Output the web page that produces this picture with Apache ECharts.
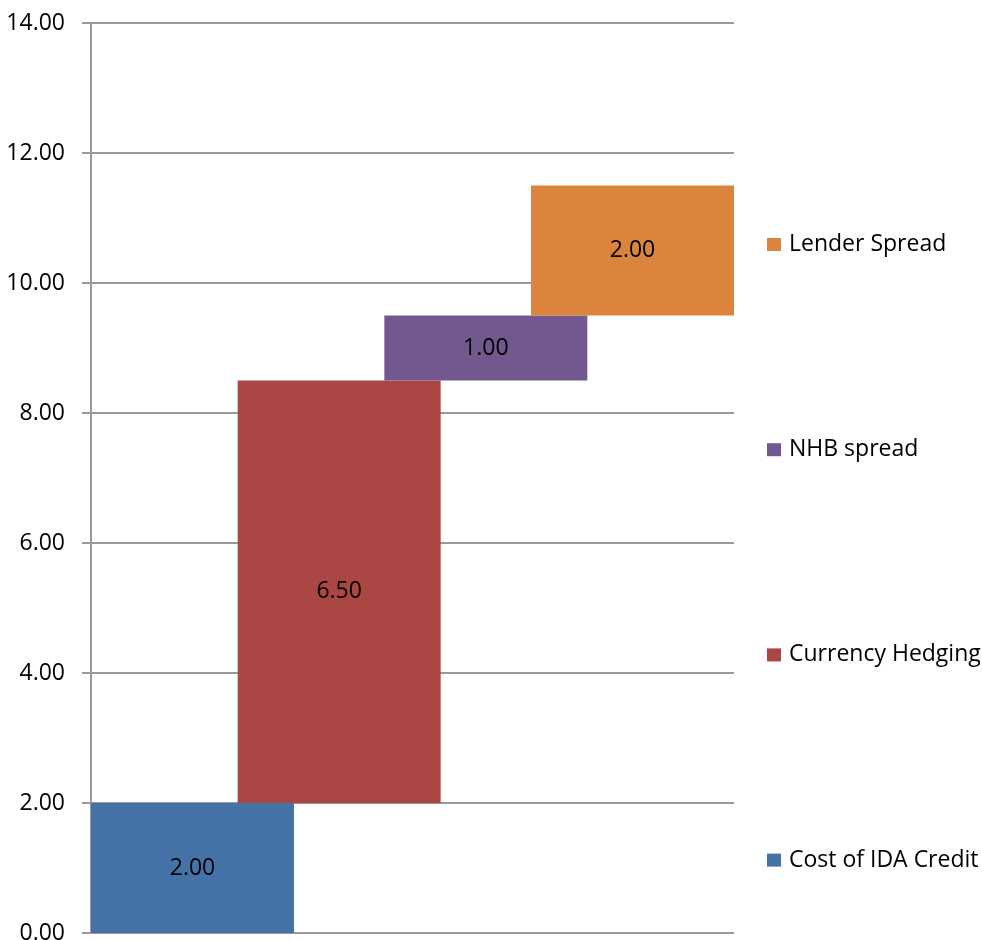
<!DOCTYPE html>
<html>
<head>
<meta charset="utf-8">
<script src="https://cdn.jsdelivr.net/npm/echarts@6/dist/echarts.min.js"></script>
<style>
  html, body { margin: 0; padding: 0; background: #fff; }
  #chart { width: 982px; height: 940px; }
</style>
</head>
<body>
<div id="chart"></div>
<script>
// waterfall data
var categories = ['Cost of IDA Credit', 'Currency Hedging', 'NHB spread', 'Lender Spread'];
var values = [2.00, 6.50, 1.00, 2.00];
var colors = ['#4573a7', '#aa4644', '#71588f', '#db843e'];
var legendOrder = ['Lender Spread', 'NHB spread', 'Currency Hedging', 'Cost of IDA Credit'];

var BAR_W = 1.384; // bar width in x units (bars overlap like the original)
var FONT = '"Open Sans", "Noto Sans", sans-serif';

function renderBar(params, api) {
	var x = api.value(0);
	var lo = api.value(1);
	var hi = api.value(2);
	var p0 = api.coord([x - BAR_W / 2, hi]);
	var p1 = api.coord([x + BAR_W / 2, lo]);
	return {
		type: 'rect',
		shape: { x: p0[0], y: p0[1], width: p1[0] - p0[0], height: p1[1] - p0[1] },
		style: { fill: colors[params.seriesIndex] },
		textContent: {
			style: {
				text: (hi - lo).toFixed(2),
				fill: '#000',
				fontSize: 23,
				fontFamily: FONT
			}
		},
		textConfig: { position: 'inside' }
	};
}

var base = 0;
var series = categories.map(function(name, i) {
	var item = [i, base, base + values[i]];
	base += values[i];
	return {
		name: name,
		type: 'custom',
		renderItem: renderBar,
		itemStyle: { color: colors[i] },
		encode: { x: 0, y: [1, 2] },
		data: [item]
	};
});

var myChart = echarts.init(document.getElementById('chart'));
var option = {
	backgroundColor: '#fff',
	animation: false,
	grid: { left: 91, right: 248, top: 23, bottom: 7, outerBoundsMode: 'none' },
	legend: {
		orient: 'vertical',
		left: 767,
		top: 233,
		padding: 0,
		itemWidth: 14,
		itemHeight: 13,
		itemGap: 182.2,
		icon: 'rect',
		data: legendOrder,
		textStyle: { fontSize: 23, fontFamily: FONT, color: '#000', padding: [0, 0, 0, 3] }
	},
	xAxis: {
		type: 'value',
		min: -BAR_W / 2,
		max: 3 + BAR_W / 2,
		show: false
	},
	yAxis: {
		type: 'value',
		min: 0,
		max: 14,
		interval: 2,
		axisLine: { show: true, onZero: false, lineStyle: { color: '#999', width: 2 } },
		axisTick: { show: true, length: 9, lineStyle: { color: '#999', width: 2 } },
		splitLine: { show: true, lineStyle: { color: '#999', width: 2 } },
		axisLabel: {
			margin: 26,
			fontSize: 23,
			fontFamily: FONT,
			color: '#000',
			formatter: function(v) { return v.toFixed(2); }
		}
	},
	series: series
};
myChart.setOption(option);
</script>
</body>
</html>
